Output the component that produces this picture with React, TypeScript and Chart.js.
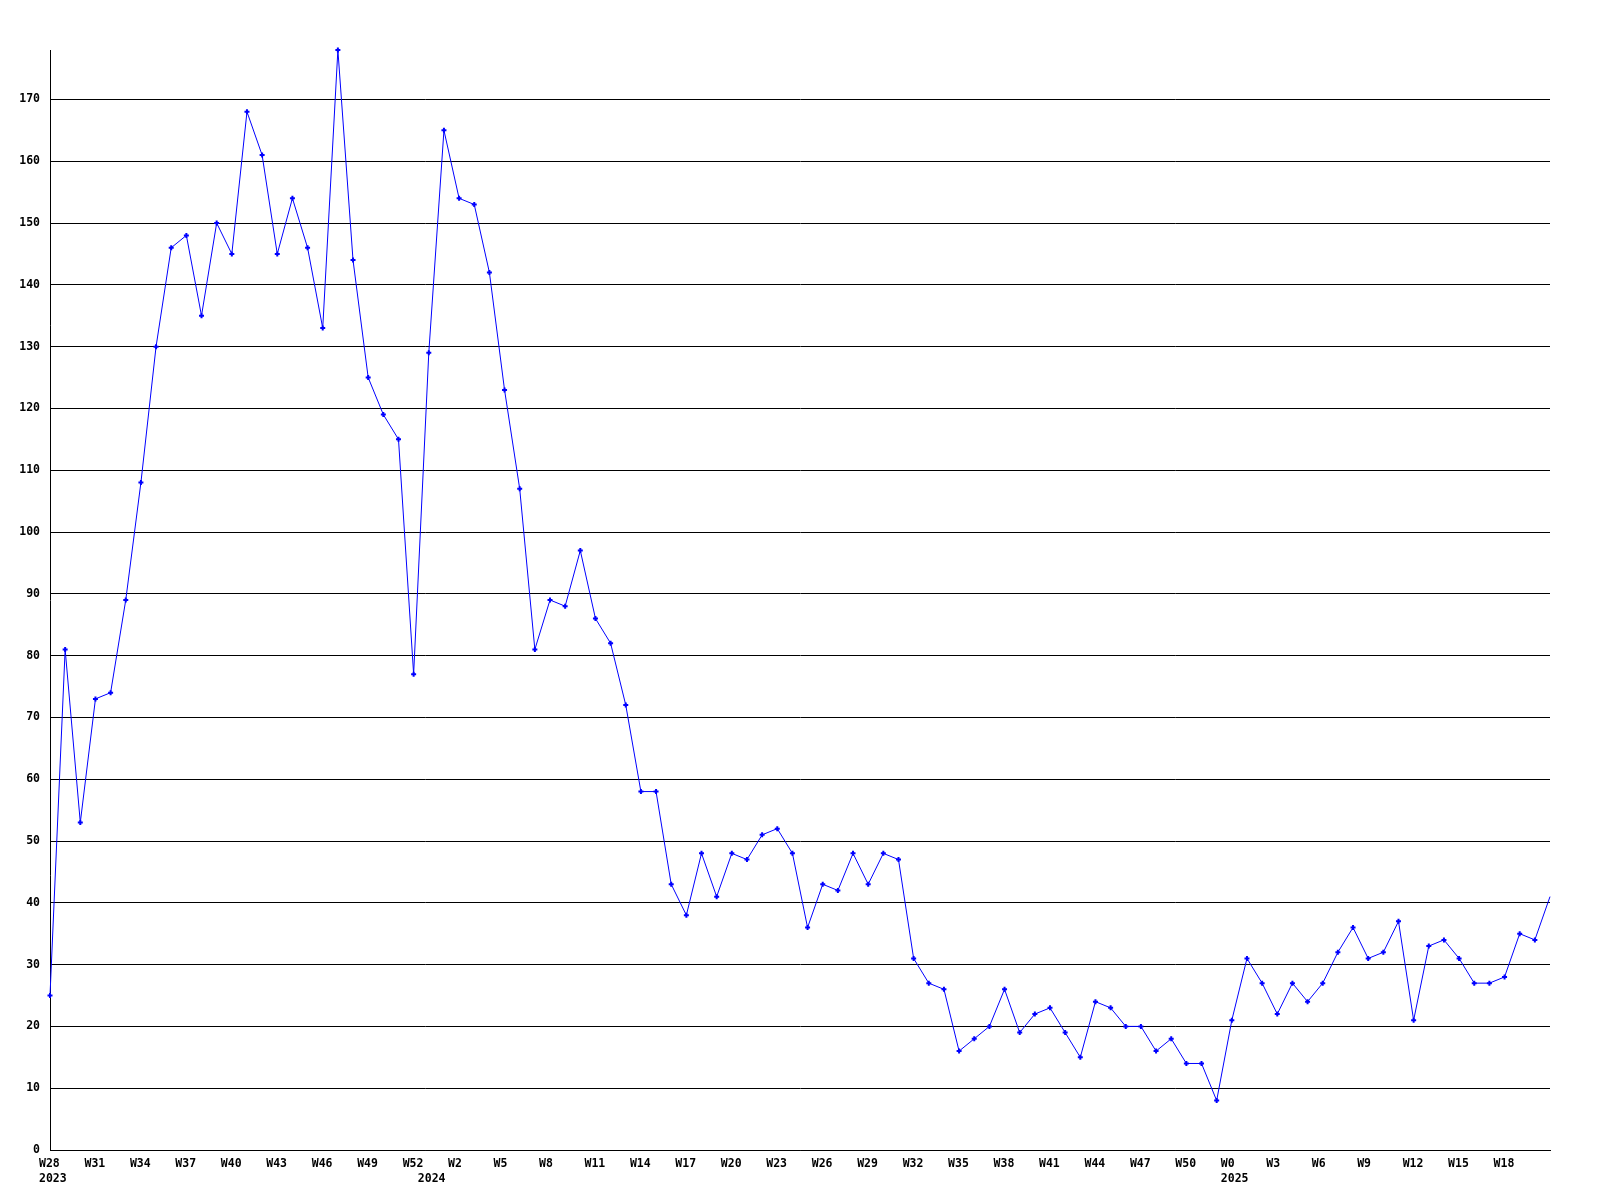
import React, { useEffect, useRef } from "react";
import { Chart, registerables } from "chart.js";

Chart.register(...registerables);

// Categories: week labels, grouped by year
const weeks2023 = ["W28","W29","W30","W31","W32","W33","W34","W35","W36","W37","W38","W39","W40","W41","W42","W43","W44","W45","W46","W47","W48","W49","W50","W51","W52"];
const weeks2024 = ["W0","W1","W2","W3","W4","W5","W6","W7","W8","W9","W10","W11","W12","W13","W14","W15","W16","W17","W18","W19","W20","W21","W22","W23","W24","W25","W26","W27","W28","W29","W30","W31","W32","W33","W34","W35","W36","W37","W38","W39","W40","W41","W42","W43","W44","W45","W46","W47","W48","W49","W50","W51","W52"];
const weeks2025 = ["W0","W1","W2","W3","W4","W5","W6","W7","W8","W9","W10","W11","W12","W13","W14","W15","W16","W17","W18","W19","W20","W21"];

// Series values
const values2023 = [25,81,53,73,74,89,108,130,146,148,135,150,145,168,161,145,154,146,133,178,144,125,119,115,77];
const values2024 = [129,165,154,153,142,123,107,81,89,88,97,86,82,72,58,58,43,38,48,41,48,47,51,52,48,36,43,42,48,43,48,47,31,27,26,16,18,20,26,19,22,23,19,15,24,23,20,20,16,18,14,14,8];
const values2025 = [21,31,27,22,27,24,27,32,36,31,32,37,21,33,34,31,27,27,28,35,34,41];

// Axis settings
const yMin = 0;
const yMax = 178;
const yStep = 10;
const xLabelEvery = 3;

const categories = [
  ...weeks2023.map((w) => ["2023", w]),
  ...weeks2024.map((w) => ["2024", w]),
  ...weeks2025.map((w) => ["2025", w]),
];
const values = [...values2023, ...values2024, ...values2025];

const FONT = { family: "'DejaVu Sans Mono', monospace", size: 11.5, weight: "bold" as const, lineHeight: 1.3 };

export default function App() {
  const ref = useRef<HTMLCanvasElement | null>(null);

  useEffect(() => {
    if (!ref.current) return;
    const last = values.length - 1;
    const chart = new Chart(ref.current, {
      type: "line",
      data: {
        labels: categories.map((c) => c[0] + " " + c[1]),
        datasets: [
          {
            data: values,
            borderColor: "#0000ff",
            backgroundColor: "#0000ff",
            borderWidth: 1,
            tension: 0,
            fill: false,
            clip: false as any,
            pointStyle: "cross",
            pointRadius: (ctx: any) => (ctx.dataIndex === last ? 0 : 2.5),
            pointBorderWidth: 2,
            pointBorderColor: "#0000ff",
            pointBackgroundColor: "#0000ff",
          },
        ],
      },
      options: {
        animation: false,
        responsive: false,
        events: [],
        layout: { padding: { top: 50, right: 50, left: 0, bottom: 0 } },
        plugins: { legend: { display: false }, tooltip: { enabled: false }, title: { display: false } },
        scales: {
          x: {
            type: "category",
            offset: false,
            grid: { display: false },
            border: { display: true, color: "#000", width: 1 },
            ticks: {
              autoSkip: false,
              maxRotation: 0,
              minRotation: 0,
              align: "start",
              labelOffset: -11,
              padding: -1.5,
              color: "#000",
              font: FONT,
              callback: (_v: any, i: number) => {
                const [year, wk] = categories[i];
                const showWeek = i % xLabelEvery === 0 && i !== last;
                const showYear = i === 0 || categories[i - 1][0] !== year;
                if (showYear) return [showWeek ? wk : "", year];
                return showWeek ? wk : "";
              },
            },
            afterFit: (scale: any) => {
              scale.height = 50;
              scale.paddingLeft = 0;
              scale.paddingRight = 0;
            },
          },
          y: {
            min: yMin,
            max: yMax,
            grid: { color: "#000", lineWidth: 1, drawTicks: false },
            border: { display: true, color: "#000", width: 1 },
            ticks: { stepSize: yStep, padding: 10, color: "#000", font: FONT },
            afterBuildTicks: (scale: any) => {
              scale.ticks = scale.ticks.filter((t: any) => t.value % yStep === 0);
            },
            afterFit: (scale: any) => {
              scale.width = 50;
              scale.paddingTop = 0;
              scale.paddingBottom = 0;
            },
          },
        },
      },
    } as any);
    return () => chart.destroy();
  }, []);

  return (
    <div style={{ position: "absolute", left: 0, top: 0, width: 1600, height: 1200, background: "#fff" }}>
      <canvas ref={ref} width={1600} height={1200} style={{ display: "block", width: 1600, height: 1200 }} />
    </div>
  );
}
